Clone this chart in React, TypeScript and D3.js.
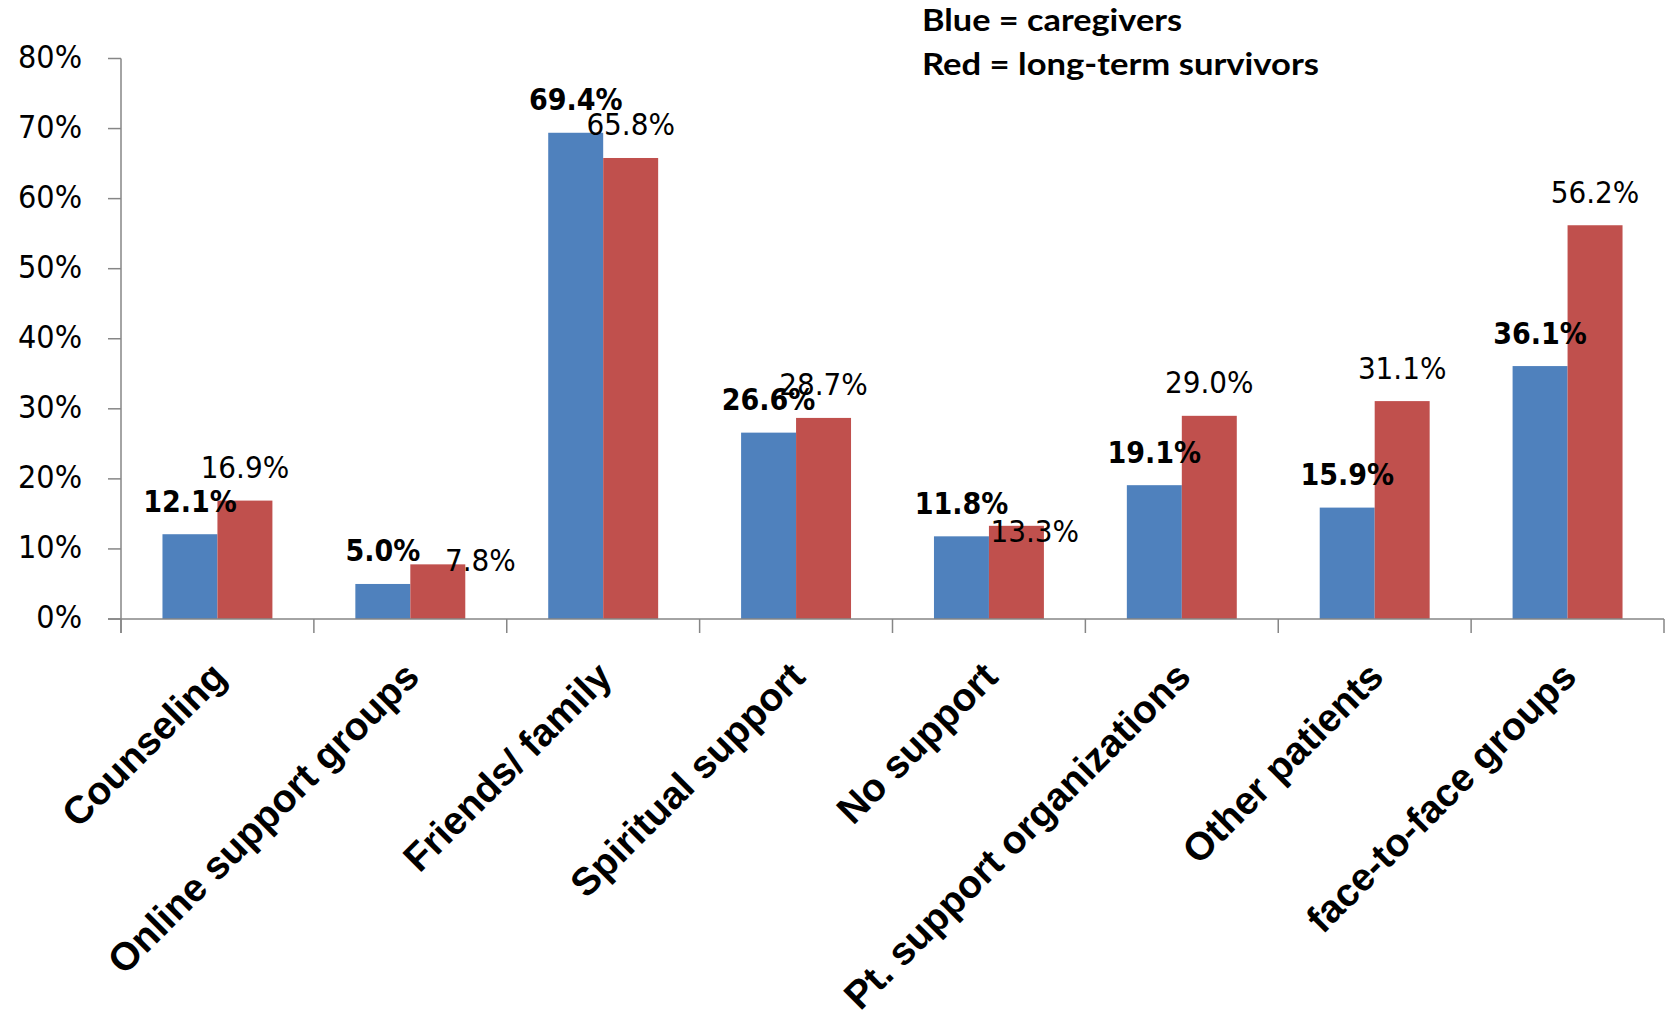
import React from "react";
import * as d3 from "d3";

const categories = [
  "Counseling",
  "Online support groups",
  "Friends/ family",
  "Spiritual support",
  "No support",
  "Pt. support organizations",
  "Other patients",
  "face-to-face groups",
];
const caregivers = [12.1, 5.0, 69.4, 26.6, 11.8, 19.1, 15.9, 36.1];
const survivors = [16.9, 7.8, 65.8, 28.7, 13.3, 29.0, 31.1, 56.2];
const yTicks = [0, 10, 20, 30, 40, 50, 60, 70, 80];
const legendLines = ["Blue = caregivers", "Red = long-term survivors"];

// manually moved data labels of the survivors series (offset dx, baseline relative to bar top)
const survivorLabelMoves: Record<number, [number, number]> = {
  1: [42.6, 6.3],
  4: [18.4, 15.7],
};

const W = 1667;
const H = 1013;
const X0 = 121;
const X1 = 1664;
const Y0 = 619;
const Y1 = 58.5;
const BLUE = "#4F81BD";
const RED = "#C0504D";
const AXIS = "#868686";
const NUM_FONT = "'DejaVu Sans Condensed', 'DejaVu Sans', sans-serif";

export default function App() {
  const x = d3.scaleBand<string>().domain(categories).range([X0, X1]).paddingInner(0.43).paddingOuter(0.215);
  const sub = d3.scaleBand<string>().domain(["c", "s"]).range([0, x.bandwidth()]).padding(0);
  const y = d3.scaleLinear().domain([0, 80]).range([Y0, Y1]);
  const step = x.step();
  const fmt = (v: number) => v.toFixed(1) + "%";

  return (
    <svg width={W} height={H} style={{ position: "absolute", left: 0, top: 0, background: "#fff" }}>
      <rect x={0} y={0} width={W} height={H} fill="#fff" />
      {/* legend text */}
      <g fontFamily="Lato, 'Open Sans', sans-serif" fontWeight="bold" fontSize={31} fill="#000">
        <text x={922} y={30.5} textLength={260} lengthAdjust="spacingAndGlyphs">{legendLines[0]}</text>
        <text x={922} y={75} textLength={397} lengthAdjust="spacingAndGlyphs">{legendLines[1]}</text>
      </g>
      {/* bars */}
      {categories.map((c, i) => {
        const bx = x(c) as number;
        return (
          <g key={c}>
            <rect x={bx + (sub("c") as number)} y={y(caregivers[i])} width={sub.bandwidth()} height={Y0 - y(caregivers[i])} fill={BLUE} />
            <rect x={bx + (sub("s") as number)} y={y(survivors[i])} width={sub.bandwidth()} height={Y0 - y(survivors[i])} fill={RED} />
          </g>
        );
      })}
      {/* axes */}
      <g stroke={AXIS} strokeWidth={1.5} fill="none">
        <line x1={X0} y1={Y1} x2={X0} y2={Y0 + 14} />
        <line x1={X0 - 13} y1={Y0} x2={X1} y2={Y0} />
        {yTicks.map((t) => (
          <line key={t} x1={X0 - 13} y1={y(t)} x2={X0} y2={y(t)} />
        ))}
        {d3.range(categories.length + 1).map((i) => (
          <line key={i} x1={X0 + i * step} y1={Y0} x2={X0 + i * step} y2={Y0 + 14} />
        ))}
      </g>
      {/* y tick labels */}
      <g fontFamily={NUM_FONT} fontStretch="condensed" fontSize={32} fill="#000" textAnchor="end">
        {yTicks.map((t) => (
          <text key={t} x={82} y={y(t) + 9}>{t + "%"}</text>
        ))}
      </g>
      {/* data labels */}
      <g fontFamily={NUM_FONT} fontStretch="condensed" fill="#000" textAnchor="middle">
        {categories.map((c, i) => {
          const bx = x(c) as number;
          const cx1 = bx + (sub("c") as number) + sub.bandwidth() / 2;
          const cx2 = bx + (sub("s") as number) + sub.bandwidth() / 2;
          const mv = survivorLabelMoves[i];
          const sx = mv ? cx2 + mv[0] : cx2;
          const sy = mv ? y(survivors[i]) + mv[1] : y(survivors[i]) - 22.5;
          return (
            <g key={c}>
              <text x={cx1} y={y(caregivers[i]) - 22.5} fontSize={30} fontWeight="bold">{fmt(caregivers[i])}</text>
              <text x={sx} y={sy} fontSize={31}>{fmt(survivors[i])}</text>
            </g>
          );
        })}
      </g>
      {/* category labels */}
      <g fontFamily="'Liberation Sans', Arial, sans-serif" fontWeight="bold" fontSize={39} fill="#000" textAnchor="end">
        {categories.map((c) => {
          const cx = (x(c) as number) + x.bandwidth() / 2;
          return (
            <text key={c} transform={`translate(${cx + 11},${Y0 + 60}) rotate(-45)`}>{c}</text>
          );
        })}
      </g>
    </svg>
  );
}
